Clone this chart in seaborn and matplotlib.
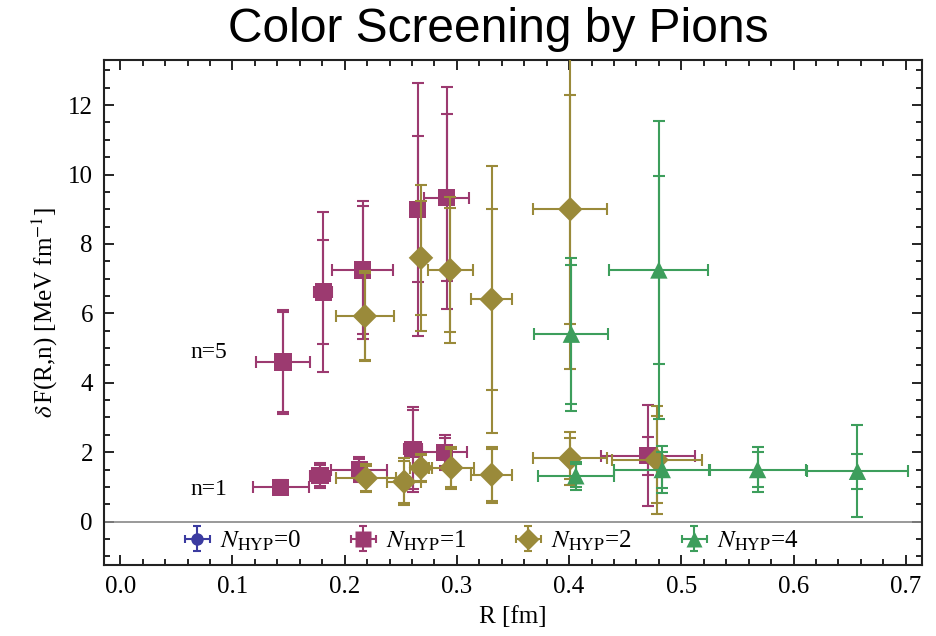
import numpy as np
import pandas as pd
import matplotlib
matplotlib.use("Agg")
import matplotlib.pyplot as plt
import seaborn as sns
from matplotlib.ticker import MultipleLocator

# ---- data: R [fm], dF, x-error, inner (stat) y-error, outer (total) y-error ----
# N_HYP = 0 (no points at these separations)
r0 = []
f0 = []
xe0 = []
yi0 = []
yo0 = []

# N_HYP = 1
r1 = [0.145, 0.181, 0.216, 0.265, 0.291,
      0.143, 0.178, 0.213, 0.261, 0.289, 0.470]
f1 = [4.60, 6.62, 7.25, 9.00, 9.33,
      0.99, 1.32, 1.50, 2.08, 2.00, 1.90]
xe1 = [0.024, 0.008, 0.027, 0.005, 0.020,
       0.025, 0.009, 0.025, 0.008, 0.020, 0.042]
yi1 = [1.45, 1.50, 1.85, 2.10, 2.40,
       0.15, 0.30, 0.30, 1.15, 0.40, 0.55]
yo1 = [1.50, 2.30, 2.00, 3.65, 3.20,
       0.20, 0.36, 0.36, 1.22, 0.50, 1.45]

# N_HYP = 2
r2 = [0.218, 0.268, 0.294, 0.331, 0.401,
      0.219, 0.253, 0.268, 0.295, 0.331, 0.401, 0.478]
f2 = [5.92, 7.60, 7.25, 6.40, 9.00,
      1.25, 1.15, 1.55, 1.55, 1.35, 1.82, 1.78]
xe2 = [0.026, 0.004, 0.020, 0.018, 0.033,
       0.027, 0.015, 0.010, 0.020, 0.018, 0.033, 0.040]
yi2 = [1.25, 1.65, 1.80, 2.60, 3.30,
       0.36, 0.60, 0.37, 0.55, 0.75, 0.58, 1.25]
yo2 = [1.30, 2.10, 2.10, 3.85, 4.60,
       0.40, 0.68, 0.40, 0.60, 0.80, 0.76, 1.55]

# N_HYP = 4
r4 = [0.402, 0.480,
      0.406, 0.483, 0.568, 0.657]
f4 = [5.40, 7.25,
      1.32, 1.50, 1.50, 1.45]
xe4 = [0.033, 0.044,
       0.034, 0.043, 0.043, 0.045]
yi4 = [2.00, 2.70,
       0.33, 0.52, 0.50, 0.50]
yo4 = [2.20, 4.30,
       0.40, 0.68, 0.65, 1.32]

labels = ["0", "1", "2", "4"]
colors = ["#3b3ba0", "#9c3a70", "#9a8a3a", "#3d9e5c"]
markers = ["o", "s", "D", "^"]
msizes = [10, 12.5, 12.5, 12.5]

series = [(r0, f0, xe0, yi0, yo0), (r1, f1, xe1, yi1, yo1),
          (r2, f2, xe2, yi2, yo2), (r4, f4, xe4, yi4, yo4)]

sns.set_theme(style="ticks")
plt.rcParams["font.family"] = ["Liberation Serif", "DejaVu Serif"]
plt.rcParams["mathtext.fontset"] = "stix"
plt.rcParams["text.color"] = "black"
plt.rcParams["axes.labelcolor"] = "black"
plt.rcParams["xtick.color"] = "black"
plt.rcParams["ytick.color"] = "black"

fig = plt.figure(figsize=(9.36, 6.36), dpi=100)
ax = fig.add_axes([104 / 936, 1 - 565 / 636, 818 / 936, 505 / 636])

ax.axhline(0, color="#888888", lw=1.2, zorder=1)

handles = []
for k, (lab, c, m, ms, (r, f, xe, yi, yo)) in enumerate(
        zip(labels, colors, markers, msizes, series)):
    z = 2 + k
    # outer error bars with horizontal extent
    ax.errorbar(r, f, xerr=xe, yerr=yo, fmt="none", ecolor=c,
                elinewidth=1.5, capsize=4.5, capthick=1.5, zorder=z)
    # inner error bars
    ax.errorbar(r, f, yerr=yi, fmt="none", ecolor=c,
                elinewidth=1.5, capsize=4.5, capthick=1.5, zorder=z)
    df = pd.DataFrame({"R": r, "dF": f})
    if len(df):
        sns.scatterplot(data=df, x="R", y="dF", marker=m, color=c,
                        s=ms ** 2, edgecolor="none", ax=ax, zorder=z + 0.5)
    h = ax.errorbar([np.nan], [np.nan], xerr=[0.01], yerr=[0.5], fmt=m, color=c,
                    ms=ms * 0.9, mec="none", elinewidth=1.5, capsize=3,
                    capthick=1.5, label=r"$N_{\rm HYP}$=" + lab)
    handles.append(h)

ax.set_xlim(-0.0145, 0.7145)
ax.set_ylim(-1.25, 13.3)
ax.xaxis.set_major_locator(MultipleLocator(0.1))
ax.xaxis.set_minor_locator(MultipleLocator(0.02))
ax.yaxis.set_major_locator(MultipleLocator(2))
ax.yaxis.set_minor_locator(MultipleLocator(0.5))
ax.xaxis.set_major_formatter(matplotlib.ticker.FormatStrFormatter("%.1f"))
ax.tick_params(which="both", direction="in", top=True, right=True,
               labelsize=18, color="black", width=1.2)
ax.tick_params(which="major", length=7, pad=8)
ax.tick_params(which="minor", length=4)
for s in ax.spines.values():
    s.set_linewidth(1.5)
    s.set_color("#222222")

ax.set_xlabel("R [fm]", fontsize=18, labelpad=6)
ax.set_ylabel(r"$\delta\,$F(R,n) [MeV fm$^{-1}$]", fontsize=18, labelpad=6)

ax.text(0.079, 4.88, "n=5", fontsize=17, ha="center", va="center")
ax.text(0.079, 0.92, "n=1", fontsize=17, ha="center", va="center")

ax.legend(handles=handles, loc="center", bbox_to_anchor=(0.472, 0.048), ncol=4,
          frameon=False, fontsize=18, handletextpad=0.3, columnspacing=1.9,
          handlelength=1.2, borderpad=0.1)

fig.text(498 / 936, 1 - 30 / 636, "Color Screening by Pions",
         fontsize=34.5, ha="center", va="center", family="Liberation Sans",
         color="black")

fig.savefig("out.png", dpi=100)
